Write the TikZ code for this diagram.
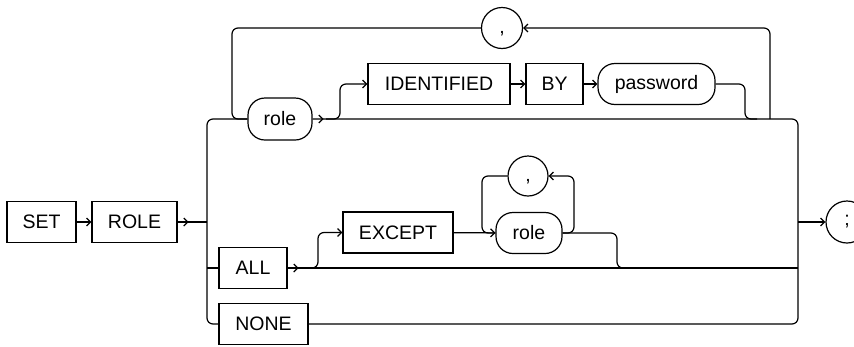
\documentclass[tikz,border=0pt]{standalone}
\usepackage{fontspec}
\setmainfont{Liberation Sans}
\usetikzlibrary{arrows.meta,decorations.markings}

\begin{document}
\begin{tikzpicture}[x=1pt,y=-1pt,line width=1.2pt,
    >={Straight Barb[length=4pt,width=8pt]},
    kw/.style={draw,rectangle,minimum height=41pt,inner sep=0pt,font=\fontsize{19.5}{22}\selectfont},
    var/.style={kw,rounded corners=17pt},
    sym/.style={draw,circle,minimum size=41pt,inner sep=0pt,font=\fontsize{19.5}{22}\selectfont},
    sep/.style={sym,text height=12pt,text depth=2pt},
    rail/.style={rounded corners=6pt},
    outarr/.style={postaction={decorate},decoration={markings,mark=at position 11pt with {\arrow{>}}}}]
  \useasboundingbox (0,0) rectangle (854,346);
  % keywords and operands
  \node[kw,minimum width=69pt] (set) at (41.5,222) {SET};
  \node[kw,minimum width=85pt] (rolekw) at (134.5,222) {ROLE};
  \node[var,minimum width=64pt,minimum height=42pt] (rolea) at (280,119) {role};
  \node[kw,minimum width=142pt] (ident) at (439,84) {IDENTIFIED};
  \node[kw,minimum width=57pt] (by) at (554.5,84) {BY};
  \node[var,minimum width=117pt] (pw) at (656.5,84) {password};
  \node[sep] (comma1) at (502,28) {,};
  \node[kw,minimum width=68pt] (all) at (253,268) {ALL};
  \node[kw,minimum width=110pt] (except) at (398,232.5) {EXCEPT};
  \node[var,minimum width=66pt] (roleb) at (529,233) {role};
  \node[sep,minimum size=40pt] (comma2) at (528,176) {,};
  \node[kw,minimum width=89pt] (none) at (263.5,324) {NONE};
  \node[sym,minimum size=42pt] (semi) at (847,222) {;};
  % junctions
  \coordinate (jl) at (207,222);
  \coordinate (jr) at (798,222);
  % rails
  \draw[->] (set) -- (rolekw);
  \draw[outarr] (rolekw.east) -- (jl);
  \draw[rail] (rolea.west) -- (207,119) -- (207,324) -- (none.west);
  \draw (207,268) -- (all.west);
  \draw[rail,outarr] (rolea.east) -- (798,119) -- (798,324) -- (none.east);
  \draw[rail] (comma1.west) -- (232,28) -- (232,119) -- (rolea.west);
  \draw[rail,->] (770,119) -- (770,28) -- (comma1.east);
  \draw[rail,->] (326,119) -| (340,84) -- (ident.west);
  \draw[->] (ident) -- (by);
  \draw[->] (by) -- (pw);
  \draw[rail] (pw.east) -| (745,119) -- (757,119);
  \draw[outarr] (all.east) -- (798,268);
  \draw[rail,->] (303,268) -| (318,232.5) -- (except.west);
  \draw[->] (except) -- (roleb);
  \draw[rail] (comma2.west) -- (482,176) -- (482,233) -- (roleb.west);
  \draw[rail,->] (roleb.east) -- (574,233) -- (574,176) -- (comma2.east);
  \draw[rail] (roleb.east) -| (617,268) -- (625,268);
  \draw[->] (jr) -- (semi);
\end{tikzpicture}
\end{document}
